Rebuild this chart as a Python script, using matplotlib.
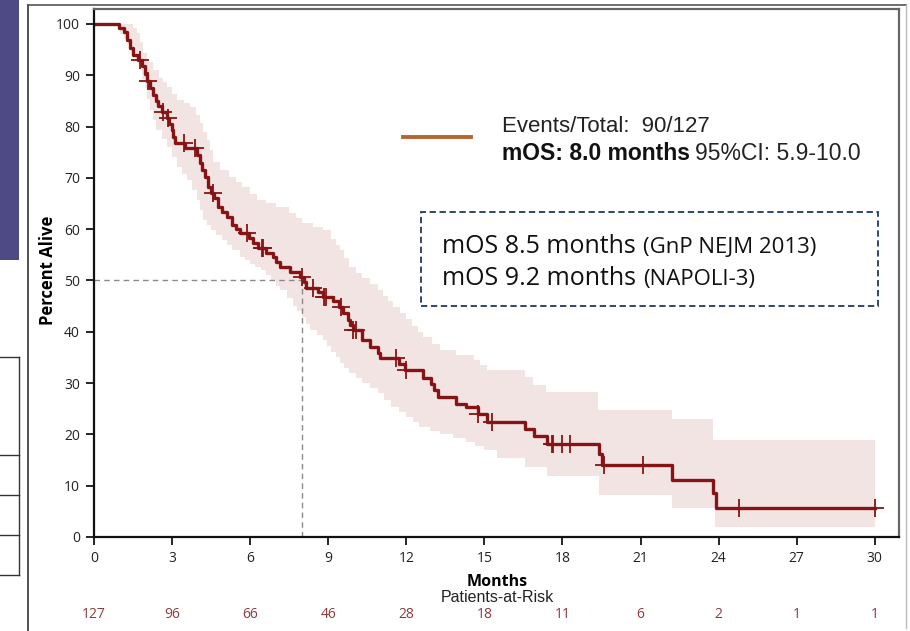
import numpy as np
import matplotlib.pyplot as plt
from matplotlib.lines import Line2D
from matplotlib.patches import Rectangle

# Kaplan-Meier steps: (month, percent alive after the step)
step_months = [0, 0.95, 1.15, 1.25, 1.4, 1.5, 1.7, 1.85, 1.95, 2.05, 2.15, 2.27, 2.4,
               2.47, 2.6, 2.8, 2.9, 2.98, 3.05, 3.1, 3.5, 3.95, 4.07, 4.15, 4.26, 4.38,
               4.5, 4.6, 4.77, 4.9, 5.1, 5.3, 5.45, 5.6, 5.95, 6.1, 6.3, 6.6, 6.88, 7.0,
               7.15, 7.53, 7.9, 8.05, 8.15, 8.6, 8.8, 9.2, 9.4, 9.55, 9.77, 9.85, 9.95,
               10.3, 10.6, 10.9, 11.0, 11.7, 11.95, 12.65, 12.95, 13.05, 13.2, 13.9,
               14.3, 14.75, 15.1, 16.55, 16.9, 17.4, 19.4, 19.5, 22.2, 23.8, 23.9]
step_surv = [100, 99.2, 98.4, 96.9, 95.3, 94.0, 93.0, 91.7, 90.2, 88.8, 87.5, 86.2, 85.0,
             83.9, 82.9, 81.6, 80.4, 79.3, 78.0, 76.7, 75.8, 74.5, 72.9, 71.5, 70.2, 68.2,
             67.0, 66.0, 64.3, 63.4, 62.4, 60.8, 60.0, 59.2, 58.3, 57.3, 56.4, 55.4, 54.6,
             53.6, 52.7, 51.7, 50.7, 49.6, 48.6, 47.7, 46.8, 45.9, 44.8, 43.7, 42.3, 41.3,
             40.3, 38.4, 37.1, 35.9, 34.9, 33.7, 32.6, 31.0, 29.8, 28.6, 27.3, 26.0,
             25.4, 24.0, 22.5, 21.0, 19.6, 18.1, 16.2, 14.0, 11.2, 8.6, 5.6]
last_month = 30.0

censor_months = [1.77, 2.07, 2.66, 2.85, 3.45, 3.88, 4.57, 5.87, 6.45, 6.5, 7.98, 8.4,
                 8.85, 8.9, 9.5, 9.97, 10.05, 11.6, 12.0, 14.75, 15.3, 17.6, 17.65,
                 18.0, 18.3, 19.6, 21.1, 24.8, 30.0]

# 95% CI band edges (step functions)
upper_months = [0, 1.5, 1.65, 1.75, 1.9, 2.05, 2.27, 2.5, 2.65, 2.8, 3.0, 3.2, 3.45, 3.7,
                3.9, 4.07, 4.2, 4.34, 4.45, 4.57, 4.85, 5.2, 5.45, 5.7, 6.0, 6.26, 6.6,
                7.0, 7.5, 7.75, 8.0, 8.4, 8.8, 9.1, 9.3, 9.45, 9.6, 9.8, 10.05, 10.3,
                10.6, 10.9, 11.1, 11.3, 11.5, 11.75, 12.0, 12.2, 12.45, 12.65, 13.0,
                13.3, 13.9, 14.6, 14.85, 15.1, 16.55, 16.85, 17.35, 19.35, 22.2, 23.8]
upper_ci = [100, 99.2, 98.2, 96.5, 94.3, 92.5, 91.0, 89.5, 88.6, 87.7, 86.4, 85.2, 84.5,
            83.8, 82.2, 80.7, 79.0, 77.4, 75.5, 73.0, 71.6, 70.2, 69.2, 68.2, 66.9, 65.7,
            65.0, 64.3, 63.2, 62.2, 61.2, 60.5, 59.8, 58.0, 57.0, 55.9, 54.3, 52.6, 51.5,
            50.5, 49.3, 48.1, 47.0, 46.0, 44.8, 43.7, 42.4, 41.2, 40.0, 39.0, 37.7,
            36.5, 35.5, 34.5, 33.5, 32.6, 31.2, 29.6, 28.3, 24.8, 23.0, 18.9]
lower_months = [0, 1.0, 1.15, 1.3, 1.47, 1.6, 1.77, 1.85, 1.95, 2.05, 2.15, 2.27, 2.4, 2.6,
                2.8, 3.0, 3.2, 3.4, 3.56, 3.75, 3.95, 4.07, 4.2, 4.35, 4.5, 4.7, 4.9, 5.1,
                5.3, 5.6, 5.8, 6.0, 6.2, 6.4, 6.6, 6.8, 7.0, 7.15, 7.4, 7.65, 7.8, 8.0,
                8.15, 8.3, 8.55, 8.8, 8.95, 9.1, 9.3, 9.45, 9.6, 9.8, 10.05, 10.3, 10.6,
                10.9, 11.15, 11.4, 11.7, 12.0, 12.25, 12.5, 12.9, 13.3, 13.8, 14.3, 14.65,
                15.0, 15.5, 16.55, 17.4, 19.4, 22.2, 23.85]
lower_ci = [100, 98.0, 97.0, 96.0, 94.3, 92.6, 91.0, 89.2, 87.5, 85.3, 83.2, 81.2, 79.3,
            77.6, 76.0, 74.0, 72.1, 70.8, 69.6, 67.6, 65.7, 63.7, 61.8, 60.8, 59.8, 58.8,
            57.9, 56.9, 56.0, 54.6, 54.0, 53.3, 52.6, 52.0, 51.0, 50.0, 49.0, 48.1, 46.5,
            45.0, 44.0, 42.9, 41.6, 40.4, 39.4, 38.4, 37.2, 36.0, 35.0, 33.9, 33.0, 32.0,
            31.0, 30.0, 29.0, 28.1, 26.7, 25.3, 24.3, 23.4, 22.4, 21.4, 20.7, 20.0, 19.2,
            18.5, 17.7, 17.0, 15.4, 13.7, 11.8, 8.2, 5.6, 2.0]

risk_months = [0, 3, 6, 9, 12, 15, 18, 21, 24, 27, 30]
at_risk = [127, 96, 66, 46, 28, 18, 11, 6, 2, 1, 1]

median_os = 8.0

W, H = 910, 631
curve_col = '#861414'
band_col = '#F3E4E4'
risk_col = '#8C3B3B'


def step_value(xs, ys, t):
    idx = np.searchsorted(xs, t, side='right') - 1
    return np.asarray(ys)[idx]


def fx(x):
    return x / W


def fy(y):
    return 1 - y / H


fig = plt.figure(figsize=(9.1, 6.31), dpi=100)

# slide remnants on the left
fig.add_artist(Rectangle((0, fy(260)), fx(19), 260 / H, transform=fig.transFigure,
                         color='#4E4A84', lw=0))
for yy in [357, 455, 495, 535, 575]:
    fig.add_artist(Line2D([0, fx(19)], [fy(yy), fy(yy)], transform=fig.transFigure,
                          color='#333333', lw=1))
fig.add_artist(Line2D([fx(19), fx(19)], [fy(357), fy(575)], transform=fig.transFigure,
                      color='#333333', lw=1))
# outer frame of the pasted graphic
fig.add_artist(Line2D([fx(28), fx(28)], [fy(5), 0], transform=fig.transFigure,
                      color='#333333', lw=1.2))
fig.add_artist(Line2D([fx(28), fx(906)], [fy(5), fy(5)], transform=fig.transFigure,
                      color='#555555', lw=1.2))
fig.add_artist(Line2D([fx(906), fx(906)], [fy(5), fy(628)], transform=fig.transFigure,
                      color='#bbbbbb', lw=1))

ax = fig.add_axes([fx(94), fy(537), (899 - 94) / W, (537 - 9) / H])

# CI band on the union of both grids
grid = np.union1d(np.array(upper_months), np.array(lower_months))
grid = np.append(grid, last_month)
ax.fill_between(grid, step_value(lower_months, lower_ci, grid),
                step_value(upper_months, upper_ci, grid),
                step='post', color=band_col, lw=0)

# median reference lines
ax.plot([0, median_os], [50, 50], ls=(0, (4, 3)), color='#8a8a8a', lw=1)
ax.plot([median_os, median_os], [0, 50], ls=(0, (4, 3)), color='#8a8a8a', lw=1)

# KM curve
km_t = step_months + [last_month]
km_s = step_surv + [step_surv[-1]]
ax.step(km_t, km_s, where='post', color=curve_col, lw=2.4)
ax.plot(censor_months, step_value(step_months, step_surv, np.array(censor_months)),
        ls='none', marker='+', ms=13, mew=1.3, color=curve_col)

ax.set_xlim(0, 30.93)
ax.set_ylim(0, 102.9)
ax.set_xticks(risk_months)
ax.set_yticks(range(0, 101, 10))
ax.tick_params(direction='out', length=6, width=1.2, pad=4, labelsize=10)
for lab in ax.get_xticklabels() + ax.get_yticklabels():
    lab.set_family('Open Sans')
    lab.set_color('#222222')
for sp in ['left', 'bottom']:
    ax.spines[sp].set_linewidth(1.6)
    ax.spines[sp].set_color('#111111')
for sp in ['top', 'right']:
    ax.spines[sp].set_linewidth(1.6)
    ax.spines[sp].set_color('#666666')
ax.set_ylabel('Percent Alive', family='Open Sans', fontweight='bold', fontsize=12)
ax.yaxis.set_label_coords((57 - 94) / 805, 0.505)

fig.text(fx(497), fy(582), 'Months', family='Open Sans', fontweight='bold', fontsize=11.5,
         ha='center', va='center')
fig.text(fx(497), fy(598), 'Patients-at-Risk', family='Liberation Sans', fontsize=11.5,
         ha='center', va='center', color='#222222')
for m, n in zip(risk_months, at_risk):
    fig.text(fx(94 + m * 26.03), fy(614), str(n), family='Open Sans', fontsize=10,
             ha='center', va='center', color=risk_col)

# legend
fig.add_artist(Line2D([fx(403), fx(471)], [fy(137), fy(137)], transform=fig.transFigure,
                      color='#B5652D', lw=2.8))
fig.text(fx(502), fy(126), 'Events/Total:  90/127', family='Liberation Sans',
         fontsize=16, va='center', color='#222222')
renderer = fig.canvas.get_renderer()
t1 = fig.text(fx(502), fy(153), 'mOS: 8.0 months', family='Liberation Sans',
              fontsize=16.5, fontweight='bold', va='center', color='#111111')
bb = t1.get_window_extent(renderer)
fig.text(bb.x1 / W + fx(5), fy(153), '95%CI: 5.9-10.0', family='Liberation Sans',
         fontsize=16.5, va='center', color='#222222')

# comparison box
fig.add_artist(Rectangle((fx(421), fy(306)), (878 - 421) / W, (306 - 212) / H,
                         transform=fig.transFigure, fill=False, ec='#1F3864', lw=1.3,
                         ls=(0, (3.5, 2))))
box_lines = [('mOS 8.5 months', '(GnP NEJM 2013)', 253),
             ('mOS 9.2 months', '(NAPOLI-3)', 285)]
for big, small, yy in box_lines:
    tb = fig.text(fx(442), fy(yy), big, family='Open Sans', fontsize=18, va='baseline',
                  color='#111111')
    bb = tb.get_window_extent(renderer)
    fig.text(bb.x1 / W + fx(7), fy(yy), small, family='Open Sans', fontsize=16,
             va='baseline', color='#111111')

fig.savefig('out.png', dpi=100)
